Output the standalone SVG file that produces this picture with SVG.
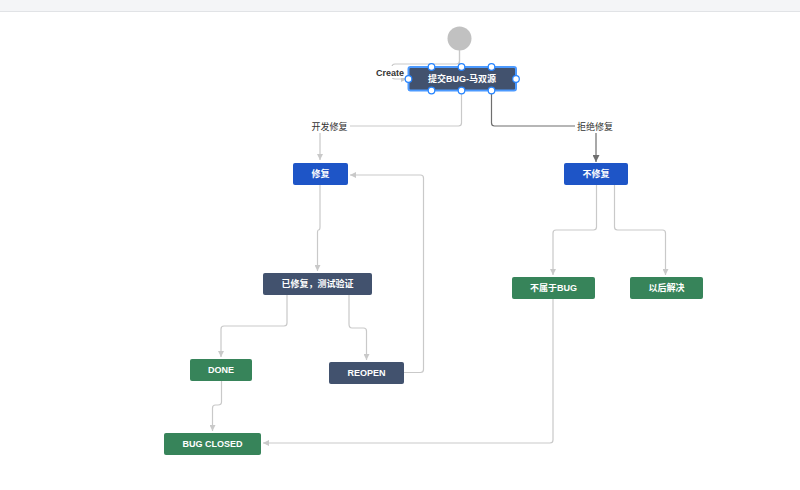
<svg xmlns="http://www.w3.org/2000/svg" width="800" height="490" viewBox="0 0 800 490">
<style>
.bg{fill:#ffffff}
.node text{font-family:"Liberation Sans","Noto Sans CJK SC",sans-serif;font-size:9px;font-weight:bold;fill:#ffffff;text-anchor:middle;dominant-baseline:central}
.dark{fill:#42526e}
.blue{fill:#1e55c7}
.green{fill:#37845a}
.conn path{fill:none;stroke:#c9c9c9;stroke-width:1.2}
.conn path.sel{stroke:#6f6f6f}
.lbl{font-family:"Liberation Sans","Noto Sans CJK SC",sans-serif;font-size:9px;fill:#333333;text-anchor:middle;dominant-baseline:central}
.lblbg{fill:#ffffff}
.handle{fill:#ffffff;stroke:#2684ff;stroke-width:1.2}
</style>
<defs>
<marker id="ah" viewBox="0 0 10 10" refX="10" refY="5" markerWidth="6" markerHeight="6" markerUnits="userSpaceOnUse" orient="auto">
<path d="M0,0 L10,5 L0,10 z" fill="#c9c9c9"/>
</marker>
<marker id="ahd" viewBox="0 0 10 10" refX="10" refY="5" markerWidth="7" markerHeight="7" markerUnits="userSpaceOnUse" orient="auto">
<path d="M0,0 L10,5 L0,10 z" fill="#6f6f6f"/>
</marker>
</defs>
<rect class="bg" x="0" y="0" width="800" height="490"/>
<rect x="0" y="0" width="800" height="11" fill="#f4f5f7"/>
<line x1="0" y1="11.5" x2="800" y2="11.5" stroke="#e1e3e6" stroke-width="1"/>

<g id="connectors" class="conn">
<path d="M459.5,50 V67"/>
<path d="M459.5,50 V61 Q459.5,64 456.5,64 H395 Q392,64 392,67 V76 Q392,79 395,79 H407" marker-end="url(#ah)"/>
<path d="M461.5,91 V123 Q461.5,126 458.5,126 H323 Q320,126 320,129 V160" marker-end="url(#ah)"/>
<path class="sel" d="M491.5,91 V123 Q491.5,126 494.5,126 H593 Q596,126 596,129 V162" marker-end="url(#ahd)"/>
<path d="M320,185 V227 Q320,230 318.5,230 Q317.5,230 317.5,233 V271" marker-end="url(#ah)"/>
<path d="M287,295 V323 Q287,326 284,326 H224 Q221,326 221,329 V357" marker-end="url(#ah)"/>
<path d="M349,295 V324 Q349,328 352,328 H363.5 Q366.5,328 366.5,331 V360" marker-end="url(#ah)"/>
<path d="M404,372.5 H420.5 Q423.5,372.5 423.5,369.5 V178 Q423.5,175 420.5,175 H350" marker-end="url(#ah)"/>
<path d="M221.5,381 V402 Q221.5,405 218,405 H215.5 Q212.5,405 212.5,408 V431" marker-end="url(#ah)"/>
<path d="M553,299 V440 Q553,443 550,443 H263" marker-end="url(#ah)"/>
<path d="M596.5,185 V227 Q596.5,230 593.5,230 H556 Q553,230 553,233 V275" marker-end="url(#ah)"/>
<path d="M614.5,185 V227 Q614.5,230 617.5,230 H662.5 Q665.5,230 665.5,233 V275" marker-end="url(#ah)"/>
<rect class="lblbg" x="375" y="66" width="30" height="12"/>
<text class="lbl" x="390" y="72.5" font-weight="bold">Create</text>
<rect class="lblbg" x="309" y="120" width="41" height="13"/>
<text class="lbl" x="329.5" y="126.5">开发修复</text>
<rect class="lblbg" x="575" y="120" width="41" height="13"/>
<text class="lbl" x="595" y="126.5">拒绝修复</text>
</g>

<g id="start">
<circle cx="459.5" cy="38.5" r="12" fill="#c1c1c1"/>
</g>

<g id="node-submit" class="node">
<rect x="408.5" y="67" width="107.5" height="23.5" rx="2" fill="#42526e" stroke="#4c9aff" stroke-width="2"/>
<text x="462" y="79">提交BUG-马双源</text>
<circle class="handle" cx="408.5" cy="79" r="3.3"/>
<circle class="handle" cx="516" cy="79" r="3.3"/>
<circle class="handle" cx="431.5" cy="67" r="3.3"/>
<circle class="handle" cx="461.5" cy="67" r="3.3"/>
<circle class="handle" cx="491.5" cy="67" r="3.3"/>
<circle class="handle" cx="431.5" cy="90.5" r="3.3"/>
<circle class="handle" cx="461.5" cy="90.5" r="3.3"/>
<circle class="handle" cx="491.5" cy="90.5" r="3.3"/>
</g>

<g id="node-fix" class="node">
<rect class="blue" x="293" y="163" width="55" height="22" rx="2"/>
<text x="320.5" y="174">修复</text>
</g>

<g id="node-nofix" class="node">
<rect class="blue" x="564" y="163" width="64" height="22" rx="2"/>
<text x="596" y="174">不修复</text>
</g>

<g id="node-fixed" class="node">
<rect class="dark" x="263" y="273" width="109" height="22" rx="2"/>
<text x="317.5" y="284">已修复，测试验证</text>
</g>

<g id="node-notbug" class="node">
<rect class="green" x="512" y="277" width="83" height="22" rx="2"/>
<text x="553.5" y="288">不属于BUG</text>
</g>

<g id="node-later" class="node">
<rect class="green" x="630" y="277" width="73" height="22" rx="2"/>
<text x="666.5" y="288">以后解决</text>
</g>

<g id="node-done" class="node">
<rect class="green" x="190" y="359" width="62" height="22" rx="2"/>
<text x="221" y="370">DONE</text>
</g>

<g id="node-reopen" class="node">
<rect class="dark" x="329" y="362" width="75" height="22" rx="2"/>
<text x="366.5" y="373">REOPEN</text>
</g>

<g id="node-closed" class="node">
<rect class="green" x="164" y="433" width="97" height="22" rx="2"/>
<text x="212.5" y="444">BUG CLOSED</text>
</g>
</svg>
